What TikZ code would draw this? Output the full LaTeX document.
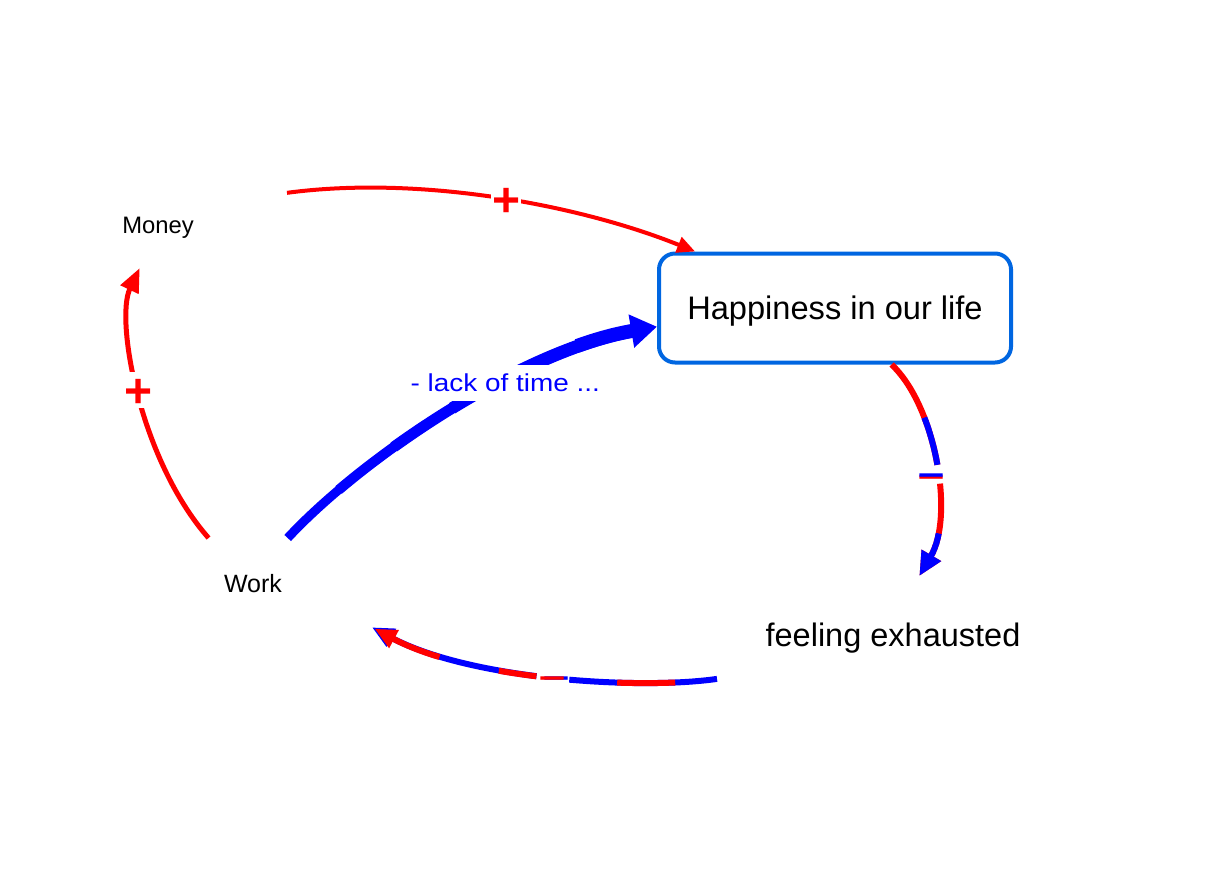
\documentclass[tikz,border=0pt]{standalone}
\usepackage{fontspec}
\setmainfont{Liberation Sans}
\newfontfamily\widefont[FakeStretch=1.14]{Liberation Sans}
\usepackage{tikz}
\usetikzlibrary{arrows.meta}
\definecolor{boxblue}{RGB}{0,102,225}
\tikzset{>={Triangle[length=18pt,width=16pt]}}
\tikzset{
  varnode/.style={shape=rectangle,inner sep=0pt,outer sep=0pt,text depth=0pt,align=center},
  possign/.style={shape=rectangle,fill=white,inner sep=1pt,text depth=0pt,text height=34pt,font=\bfseries\fontsize{48}{48}\selectfont},
  negsign/.style={shape=rectangle,inner sep=1pt,text depth=0pt,text height=34pt,font=\fontsize{48}{48}\selectfont},
}

\begin{document}
\begin{tikzpicture}[x=1pt,y=-1pt]

\useasboundingbox[fill=white] (0,0) rectangle (1214,892);

% variables
\path (158,225) node [varnode,minimum width=258pt,minimum height=86pt,font=\fontsize{23.8}{28}\selectfont,text height=17pt] (money) {Money};

\path (253,584) node [varnode,minimum width=238pt,minimum height=92pt,font=\fontsize{25}{30}\selectfont,text height=17.9pt] (work) {Work};

\path (835,308) node [shape=rectangle,draw=boxblue,line width=4pt,rounded corners=16pt,minimum width=352pt,minimum height=109pt,text depth=0pt,text height=23.3pt,font=\fontsize{32.6}{38}\selectfont] (happy) {Happiness in our life};

\path (893,635) node [varnode,minimum width=352pt,minimum height=118pt,font=\fontsize{32.5}{38}\selectfont,text height=23.5pt] (feel) {feeling exhausted};

% money -> happiness
\draw [red,line width=4pt,->] (money.14) .. controls (420,175) and (580,205) .. (happy.158) node [possign,pos=0.52,text=red] {+};

% work -> money
\draw [red,line width=5pt,->,>={Triangle[length=24pt,width=19pt]}] (work.134) .. controls (140,460) and (115,320) .. (money.-113) node [possign,pos=0.51,text=red] {+};

% happiness -> feeling exhausted
\draw [red,line width=6pt,dash pattern=on 112pt off 19pt on 300pt off 0pt,->,>={Triangle[length=24pt,width=21pt]}] (happy.-45) .. controls (935,405) and (955,515) .. (feel.66) node [negsign,pos=0.55,text=red,xshift=-5pt,yshift=-1.5pt] {−};
\draw [blue,line width=6pt,dash pattern=on 0pt off 63pt on 49pt off 69pt on 300pt off 0pt,->,>={Triangle[length=24pt,width=21pt]}] (happy.-45) .. controls (935,405) and (955,515) .. (feel.66) node [negsign,pos=0.55,text=blue,xshift=-5pt,yshift=0.5pt] {−};

% feeling exhausted -> work
\draw [blue,line width=6pt,dash pattern=on 148pt off 33pt on 400pt off 0pt,->,>={Triangle[length=22pt,width=19pt]}] (feel.194) .. controls (640,690) and (470,680) .. (work.-20) node [negsign,pos=0.5,text=blue,xshift=4pt] {−};
\draw [red,line width=6pt,dash pattern=on 0pt off 42pt on 58pt off 81pt on 38pt off 61pt on 300pt off 0pt,shorten >=3pt,->,>={Triangle[length=22pt,width=19pt]}] (feel.194) .. controls (640,690) and (470,680) .. (work.-20) node [negsign,pos=0.5,text=red] {−};

% work -> happiness, getting wider
\foreach \w/\s in {9/0,10/70,11/140,12/210,13/280}
  \draw [blue,line width=\w pt,shorten >=20pt,dash pattern=on 0pt off \s pt on 500pt off 0pt] (work.53) .. controls (360,460) and (520,350) .. (happy.186);
\draw [blue,line width=14pt,dash pattern=on 0pt off 350pt on 200pt off 0pt,->,>={Triangle[length=26pt,width=32pt]}] (work.53) .. controls (360,460) and (520,350) .. (happy.186) node [pos=0.64,yshift=-3pt,fill=white,inner xsep=4pt,inner ysep=9pt,text depth=0pt,text height=17.5pt,text=blue,font=\widefont\fontsize{24.5}{29}\selectfont] (lack) {- lack of time ...};

\end{tikzpicture}
\end{document}
